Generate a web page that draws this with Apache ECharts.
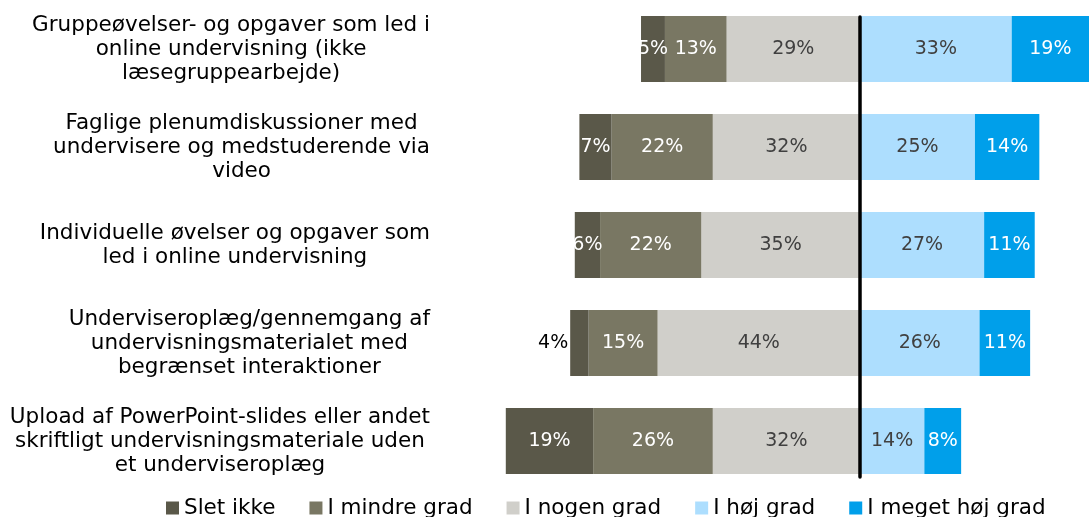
<!DOCTYPE html>
<html>
<head>
<meta charset="utf-8">
<script src="https://cdn.jsdelivr.net/npm/echarts@6/dist/echarts.min.js"></script>
<style>
html,body{margin:0;padding:0;background:#fff;}
#chart{width:1089px;height:517px;}
</style>
</head>
<body>
<div id="chart"></div>
<script>
const categories = [
  "Gruppeøvelser- og opgaver som led i\nonline undervisning (ikke\nlæsegruppearbejde)",
  "Faglige plenumdiskussioner med\nundervisere og medstuderende via\nvideo",
  "Individuelle øvelser og opgaver som\nled i online undervisning",
  "Underviseroplæg/gennemgang af\nundervisningsmaterialet med\nbegrænset interaktioner",
  "Upload af PowerPoint-slides eller andet\nskriftligt undervisningsmateriale uden\net underviseroplæg"
];
const sletIkke     = [5.2, 7, 5.5, 4, 19];
const iMindreGrad  = [13.4, 22, 22, 15, 26];
const iNogenGrad   = [29, 32, 34.5, 44, 32];
const iHoejGrad    = [33, 25, 27, 26, 14];
const iMegetHoejGrad = [19, 14, 11, 11, 8];
const legendNames = ["Slet ikke", "I mindre grad", "I nogen grad", "I høj grad", "I meget høj grad"];

const FONT = "DejaVu Sans";
const X_MIN = -80, X_MAX = 49.8;
const neg = arr => arr.map(v => -v);
const fmt = p => Math.round(Math.abs(p.value)) + "%";

function barSeries(name, data, color, labelColor) {
  return {
    name: name,
    type: 'bar',
    stack: 'total',
    barWidth: 66,
    clip: true,
    xAxisIndex: 0,
    yAxisIndex: 0,
    data: data,
    itemStyle: { color: color },
    label: { show: true, position: 'inside', formatter: fmt, color: labelColor, fontFamily: FONT, fontSize: 19 }
  };
}

const sletData = neg(sletIkke).map((v, i) => i === 3
  ? { value: v, label: { position: 'left', color: '#000', distance: 2 } }
  : v);

const series = [
  barSeries("I nogen grad", neg(iNogenGrad), '#d0cfca', '#404040'),
  barSeries("I mindre grad", neg(iMindreGrad), '#797763', '#ffffff'),
  barSeries("Slet ikke", sletData, '#5a5849', '#ffffff'),
  barSeries("I høj grad", iHoejGrad, '#addefe', '#404040'),
  barSeries("I meget høj grad", iMegetHoejGrad, '#009fea', '#ffffff')
];

const chart = echarts.init(document.getElementById('chart'), null, { renderer: 'canvas' });
chart.setOption({
  animation: false,
  textStyle: { fontFamily: FONT },
  grid: [
    { left: 492, right: 0, top: -2, height: 492, containLabel: false },
    { left: 492, right: 0, top: 17, bottom: 40, containLabel: false }
  ],
  xAxis: [
    { type: 'value', min: X_MIN, max: X_MAX, show: false, gridIndex: 0 },
    { type: 'value', min: X_MIN, max: X_MAX, gridIndex: 1,
      axisLine: { show: false }, axisTick: { show: false }, axisLabel: { show: false }, splitLine: { show: false } }
  ],
  yAxis: [
    {
      type: 'category',
      gridIndex: 0,
      data: categories,
      inverse: true,
      axisLine: { show: false, onZero: false },
      axisTick: { show: false },
      splitLine: { show: false },
      axisLabel: {
        align: 'right',
        margin: 62,
        fontFamily: FONT,
        fontSize: 21.5,
        lineHeight: 24,
        color: '#000',
        formatter: v => v.split('\n').map(s => '{c|' + s + '}').join('\n'),
        rich: { c: { align: 'center', fontFamily: FONT, fontSize: 21.5, lineHeight: 24, color: '#000' } }
      }
    },
    {
      type: 'value',
      gridIndex: 1,
      min: 0, max: 1,
      z: 10,
      axisLine: { show: true, onZero: true, lineStyle: { color: '#000', width: 3.5 } },
      axisTick: { show: false },
      axisLabel: { show: false },
      splitLine: { show: false }
    }
  ],
  legend: {
    data: legendNames,
    left: 161,
    top: 492,
    itemWidth: 13,
    itemHeight: 13,
    itemGap: 34,
    icon: 'rect',
    textStyle: { fontFamily: FONT, fontSize: 21.5, color: '#000' }
  },
  series: series
});
</script>
</body>
</html>
